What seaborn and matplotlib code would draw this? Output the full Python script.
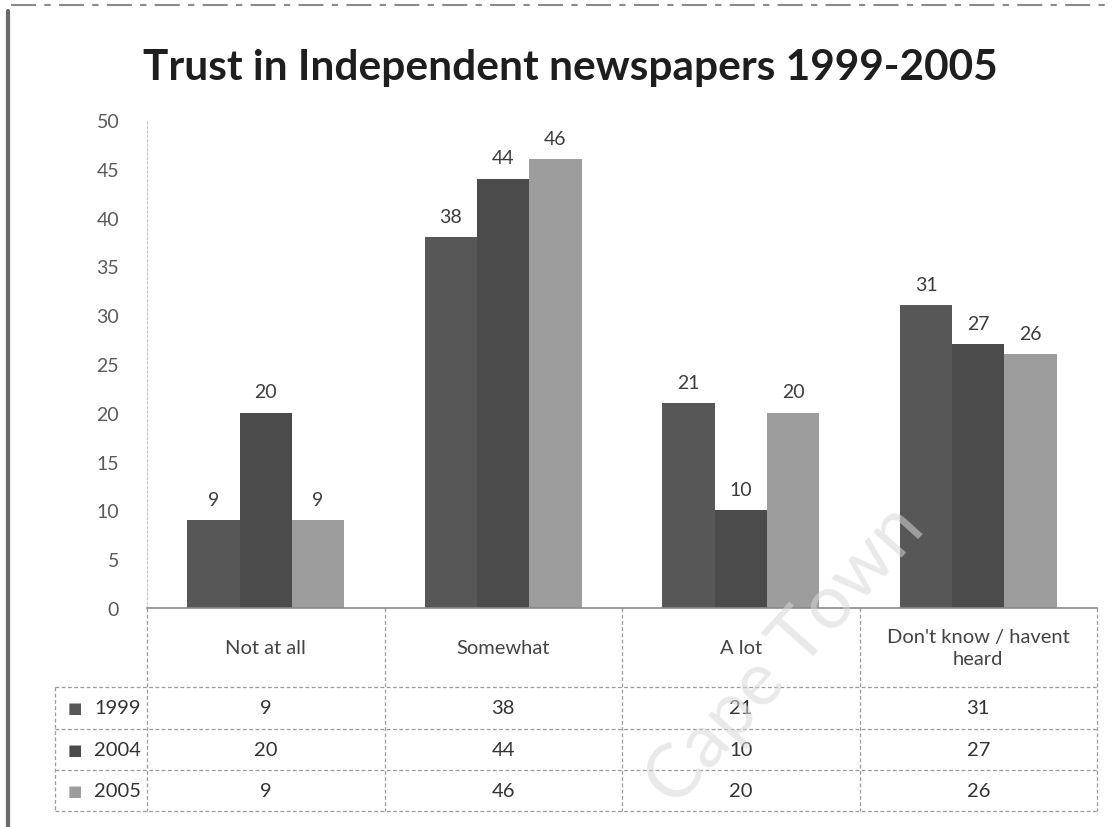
import numpy as np
import pandas as pd
import matplotlib
matplotlib.use("Agg")
import matplotlib.pyplot as plt
from matplotlib.transforms import blended_transform_factory
import seaborn as sns

# Survey responses (%), by year
categories = ["Not at all", "Somewhat", "A lot", "Don't know / havent heard"]
header_labels = ["Not at all", "Somewhat", "A lot", "Don't know / havent\nheard"]
years = ["1999", "2004", "2005"]
values_1999 = [9, 38, 21, 31]
values_2004 = [20, 44, 10, 27]
values_2005 = [9, 46, 20, 26]
y_ticks = [0, 5, 10, 15, 20, 25, 30, 35, 40, 45, 50]
title = "Trust in Independent newspapers 1999-2005"

series = {"1999": values_1999, "2004": values_2004, "2005": values_2005}
df = pd.DataFrame(
    [(c, y, v) for y in years for c, v in zip(categories, series[y])],
    columns=["category", "year", "value"],
)
colors = {"1999": "#575757", "2004": "#4b4b4b", "2005": "#9d9d9d"}

sns.set_theme(style="white")
plt.rcParams["font.family"] = ["Lato", "DejaVu Sans"]

W, H = 1116, 828
fig = plt.figure(figsize=(W / 100, H / 100), dpi=100)
fig.patch.set_facecolor("white")

ax_left, ax_right = 147 / W, 1097 / W
ax_bottom, ax_top = 1 - 609 / H, 1 - 121 / H
ax = fig.add_axes([ax_left, ax_bottom, ax_right - ax_left, ax_top - ax_bottom])

sns.barplot(data=df, x="category", y="value", hue="year", order=categories,
            hue_order=years, palette=colors, width=0.66, saturation=1,
            edgecolor="none", ax=ax, legend=False)

for cont, y in zip(ax.containers, years):
    ax.bar_label(cont, labels=[str(v) for v in series[y]], padding=9,
                 fontsize=14, color="#3c3c3c")

ax.set_xlim(-0.5, len(categories) - 0.5)
ax.set_ylim(0, 50)
ax.set_yticks(y_ticks)
ax.set_yticklabels([str(t) for t in y_ticks], fontsize=14, color="#5a5a5a")
ax.tick_params(axis="y", length=0, pad=20)
ax.set_xticks([])
ax.set_xlabel("")
ax.set_ylabel("")
for s in ["top", "right"]:
    ax.spines[s].set_visible(False)
ax.spines["bottom"].set_color("#8a8a8a")
ax.spines["bottom"].set_linewidth(1.2)
ax.spines["left"].set_color("#c8c8c8")
ax.spines["left"].set_linestyle((0, (2, 2)))
ax.spines["left"].set_linewidth(0.8)

# Data table beneath the plot, columns aligned with the categories
tr = blended_transform_factory(ax.transData, fig.transFigure)
row_edges = [1 - 609 / H, 1 - 688 / H, 1 - 730 / H, 1 - 771 / H, 1 - 812 / H]
grid_kw = dict(color="#9a9a9a", lw=0.9, linestyle=(0, (3, 2)), clip_on=False)
label_left = 55 / W

for i in range(len(categories) + 1):
    ax.plot([i - 0.5, i - 0.5], [row_edges[0], row_edges[-1]], transform=tr, **grid_kw)
for yy in row_edges[1:]:
    fig.add_artist(plt.Line2D([label_left, ax_right], [yy, yy], **grid_kw))
fig.add_artist(plt.Line2D([label_left, label_left], [row_edges[1], row_edges[-1]], **grid_kw))

for i, lab in enumerate(header_labels):
    ax.text(i, (row_edges[0] + row_edges[1]) / 2, lab, transform=tr, ha="center",
            va="center", fontsize=14.5, color="#444444", linespacing=1.3)

for r, y in enumerate(years):
    yc = (row_edges[r + 1] + row_edges[r + 2]) / 2
    fig.text(75 / W, yc, "■", color=colors[y], ha="center", va="center", fontsize=11,
             family="DejaVu Sans")
    fig.text(141 / W, yc, y, ha="right", va="center", fontsize=14.5, color="#333333")
    for i, v in enumerate(series[y]):
        ax.text(i, yc, str(v), transform=tr, ha="center", va="center",
                fontsize=14.5, color="#333333")

fig.text(570 / W, 1 - 68 / H, title, ha="center", va="center", fontsize=30.5,
         fontweight="bold", color="#1e1e1e")

# Page frame edges
fig.add_artist(plt.Line2D([8 / W, 8 / W], [0, 0.985], color="#6a6a6a", lw=3))
fig.add_artist(plt.Line2D([0.01, 0.99], [0.993, 0.993], color="#8a8a8a", lw=1.5,
                          linestyle=(0, (12, 4, 3, 4))))

# Watermark
fig.text(785 / W, 1 - 655 / H, "Cape Town", rotation=48, ha="center", va="center",
         fontsize=54, color="#d8d8d8", alpha=0.55, zorder=10)

fig.savefig("out.png", dpi=100, facecolor="white")
